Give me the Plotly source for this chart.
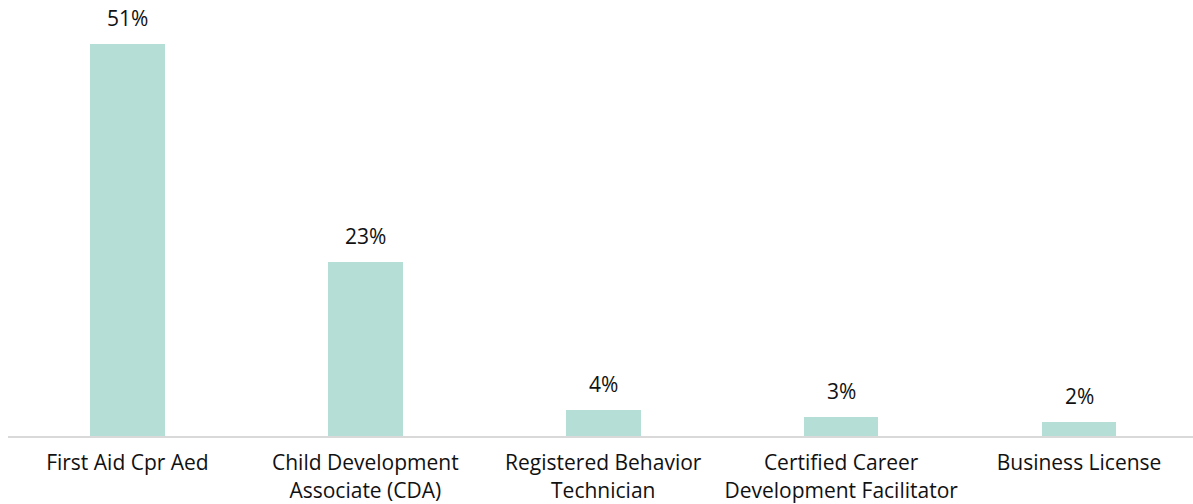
import plotly.graph_objects as go

categories = ["First Aid Cpr Aed", "Child Development<br>Associate (CDA)",
              "Registered Behavior<br>Technician", "Certified Career<br>Development Facilitator",
              "Business License"]
values = [51.0, 22.6, 3.45, 2.5, 1.8]
labels = ["51%", "23%", "4%", "3%", "2%"]

FONT = "Open Sans, Lato, sans-serif"
xs = list(range(len(categories)))

fig = go.Figure()
fig.add_trace(go.Bar(x=xs, y=values, width=0.314, marker=dict(color="#b5ded6", line=dict(width=0)),
                     hoverinfo="skip"))
for x, v, t in zip(xs, values, labels):
    fig.add_annotation(x=x, y=v, text=t, showarrow=False, yanchor="bottom", yshift=10,
                       font=dict(family=FONT, size=21, color="#111111"))

fig.update_layout(
    width=1193, height=504, margin=dict(l=8, r=0, t=0, b=68),
    paper_bgcolor="white", plot_bgcolor="white", showlegend=False,
    bargap=0,
    xaxis=dict(tickmode="array", tickvals=xs, ticktext=categories, range=[-0.502, 4.479],
               showline=True, linecolor="#d9d9d9", linewidth=2, showgrid=False, zeroline=False,
               ticks="", ticklabelstandoff=7, automargin=False,
               tickfont=dict(family=FONT, size=21, color="#111111")),
    yaxis=dict(range=[0, 56.77], visible=False, showgrid=False, zeroline=False),
)
fig.write_html("out.html", config={"displayModeBar": False},
               post_script="document.body.style.margin='0';document.body.style.overflow='hidden';")
